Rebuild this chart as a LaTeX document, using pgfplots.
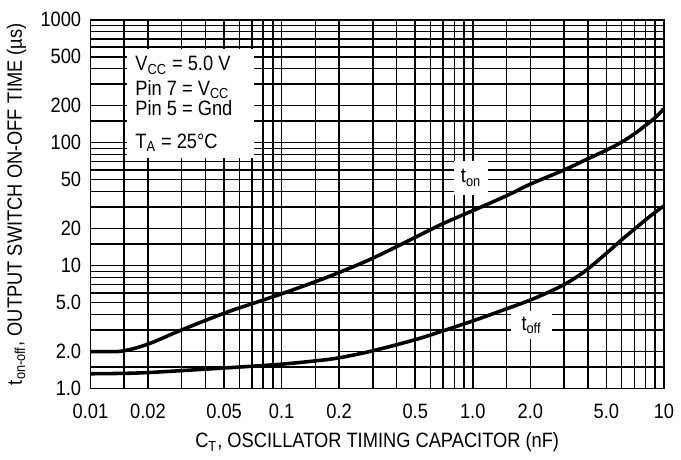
\documentclass[border=0pt]{standalone}
\usepackage{fontspec}
\setmainfont{Liberation Sans}[FakeStretch=0.88]
\usepackage{pgfplots}
\pgfplotsset{compat=1.18}
\begin{document}
\fontsize{10.5}{12.6}\selectfont
\begin{tikzpicture}
\begin{axis}[
  scale only axis, width=290pt, height=186.5pt,
  xmode=log, ymode=log,
  xmin=0.01, xmax=10, ymin=1, ymax=1000,
  xtick={0.01,0.02,0.05,0.1,0.2,0.5,1,2,5,10},
  xticklabels={0.01,0.02,0.05,0.1,0.2,0.5,1.0,2.0,5.0,10},
  ytick={1,2,5,10,20,50,100,200,500,1000},
  yticklabels={1.0,2.0,5.0,10,20,50,100,200,500,1000},
  minor xtick={0.015,0.03,0.04,0.06,0.07,0.08,0.09,0.15,0.3,0.4,0.6,0.7,0.8,0.9,1.5,3,4,6,7,8,9},
  minor ytick={1.5,3,4,6,7,8,9,15,30,40,60,70,80,90,150,300,400,600,700,800,900},
  grid=both,
  major grid style={black, line width=0.75pt},
  minor grid style={black, line width=0.7pt},
  major tick length=0pt, minor tick length=0pt,
  axis line style={black, line width=0.9pt},
  tick label style={font=\fontsize{10.5}{12}\selectfont},
  xticklabel style={yshift=-4pt},
  yticklabel style={xshift=-1pt},
  xlabel={C\textsubscript{T}, OSCILLATOR TIMING CAPACITOR (nF)},
  ylabel={t\textsubscript{on-off}, OUTPUT SWITCH ON-OFF TIME (µs)},
  label style={font=\fontsize{10.5}{12}\selectfont},
]
\addplot[black, line width=1.8pt, smooth, tension=0.6] table {
x y
0.01 2.0
0.0125 2.0
0.015 2.03
0.02 2.3
0.03 3.0
0.05 4.1
0.07 4.9
0.1 5.9
0.15 7.4
0.2 8.8
0.3 11.5
0.5 17
0.7 22
1.0 28
1.5 37
2.0 46
3.0 60
4.0 74
5.0 87
6.0 101
7.0 118
8.0 138
9.0 160
10 189
};
\addplot[black, line width=1.8pt, smooth, tension=0.6] table {
x y
0.01 1.32
0.015 1.33
0.02 1.35
0.03 1.40
0.05 1.47
0.07 1.52
0.1 1.58
0.15 1.68
0.2 1.78
0.3 2.03
0.5 2.5
0.7 2.95
1.0 3.55
1.5 4.45
2.0 5.25
2.5 6.1
3.0 7.0
3.5 8.1
4.0 9.4
5.0 12.6
6.0 16.2
7.0 19.8
8.0 23.5
9.0 27.2
10 30.6
};
\fill[white] (rel axis cs:0.0638,0.6247) rectangle (rel axis cs:0.2845,0.9196);
\node[anchor=base west, inner sep=0pt] at (rel axis cs:0.0776,0.8616) {V\textsubscript{CC} = 5.0 V};
\node[anchor=base west, inner sep=0pt] at (rel axis cs:0.0776,0.7946) {Pin 7 = V\textsubscript{CC}};
\node[anchor=base west, inner sep=0pt] at (rel axis cs:0.0776,0.7410) {Pin 5 = Gnd};
\node[anchor=base west, inner sep=0pt] at (rel axis cs:0.0776,0.6515) {T\textsubscript{A} = 25°C};
\node[fill=white, inner sep=0pt, minimum width=17pt, minimum height=17pt] at (axis cs:0.98,51.7) {t\textsubscript{on}};
\node[fill=white, inner sep=0pt, minimum width=21pt, minimum height=14pt] at (axis cs:2.03,3.27) {t\textsubscript{off}};
\end{axis}
\path ([yshift=10pt]current axis.north);
\end{tikzpicture}
\end{document}
